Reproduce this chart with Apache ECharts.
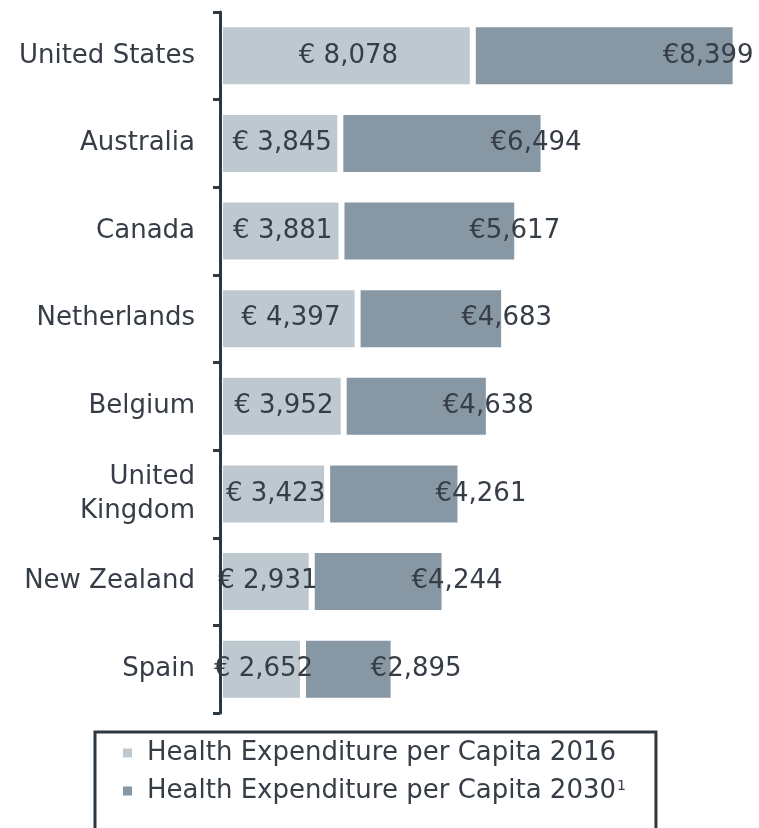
<!DOCTYPE html>
<html>
<head>
<meta charset="utf-8">
<script src="https://cdn.jsdelivr.net/npm/echarts@6/dist/echarts.min.js"></script>
<style>
html,body{margin:0;padding:0;background:#fff;}
#chart{width:759px;height:828px;}
</style>
</head>
<body>
<div id="chart"></div>
<script>
var categories = ['United States','Australia','Canada','Netherlands','Belgium','United Kingdom','New Zealand','Spain'];
var values2016 = [8078, 3845, 3881, 4397, 3952, 3423, 2931, 2652];
var values2030 = [8399, 6494, 5617, 4683, 4638, 4261, 4244, 2895];
var seriesNames = ['Health Expenditure per Capita 2016', 'Health Expenditure per Capita 2030'];
var label2030Offsets = [-73, -53, -48, -43, -46, -25, -33, -23];

var FONT = 'DejaVu Sans';
var TEXT = '#363d46';
var LIGHT = '#bec8cf';
var DARK = '#8797a4';

function fmt(v){ return v.toLocaleString('en-US'); }

var chart = echarts.init(document.getElementById('chart'));
chart.setOption({
  backgroundColor: '#ffffff',
  animation: false,
  grid: { left: 220, right: 7, top: 12, bottom: 115, containLabel: false },
  xAxis: { type: 'value', min: 0, max: 17000, show: false },
  yAxis: {
    type: 'category',
    data: categories,
    inverse: true,
    z: 10,
    axisLine: { show: true, lineStyle: { color: '#2d3843', width: 3 } },
    axisTick: { show: true, length: 7, lineStyle: { color: '#2d3843', width: 3 } },
    axisLabel: {
      margin: 25,
      fontFamily: FONT, fontSize: 26, color: TEXT, lineHeight: 34,
      formatter: function(v){ return v === 'United Kingdom' ? 'United\nKingdom' : v; }
    },
    splitLine: { show: false }
  },
  legend: {
    left: 95, top: 732,
    width: 620, height: 110,
    orient: 'vertical',
    padding: [8, 30, 30, 26],
    borderColor: '#2d3843', borderWidth: 3,
    itemWidth: 11, itemHeight: 11, itemGap: 12,
    icon: 'rect',
    textStyle: {
      fontFamily: FONT, fontSize: 26, color: TEXT, lineHeight: 26,
      rich: {
        a: { fontFamily: FONT, fontSize: 26, color: TEXT, lineHeight: 26, padding: [0, 0, 0, 9] },
        s: { fontFamily: FONT, fontSize: 14, color: TEXT, lineHeight: 26, padding: [0, 0, 10, 1] }
      }
    },
    formatter: function(name){
      if (name === seriesNames[1]) return '{a|' + name + '}{s|1}';
      return '{a|' + name + '}';
    },
    data: seriesNames
  },
  series: [
    {
      name: seriesNames[0], type: 'bar', stack: 'total',
      data: values2016,
      barWidth: 63,
      itemStyle: { color: LIGHT, borderColor: '#ffffff', borderWidth: 3 },
      label: {
        show: true, position: 'inside', offset: [2, 0],
        fontFamily: FONT, fontSize: 26, color: TEXT,
        formatter: function(p){ return '€ ' + fmt(p.value); }
      }
    },
    {
      name: seriesNames[1], type: 'bar', stack: 'total',
      data: values2030.map(function(v, i){
        return { value: v, label: { offset: [label2030Offsets[i], 0] } };
      }),
      barWidth: 63,
      itemStyle: { color: DARK, borderColor: '#ffffff', borderWidth: 3 },
      label: {
        show: true, position: 'right', distance: 0,
        fontFamily: FONT, fontSize: 26, color: TEXT,
        formatter: function(p){ return '€' + fmt(p.value); }
      }
    }
  ]
});
</script>
</body>
</html>
